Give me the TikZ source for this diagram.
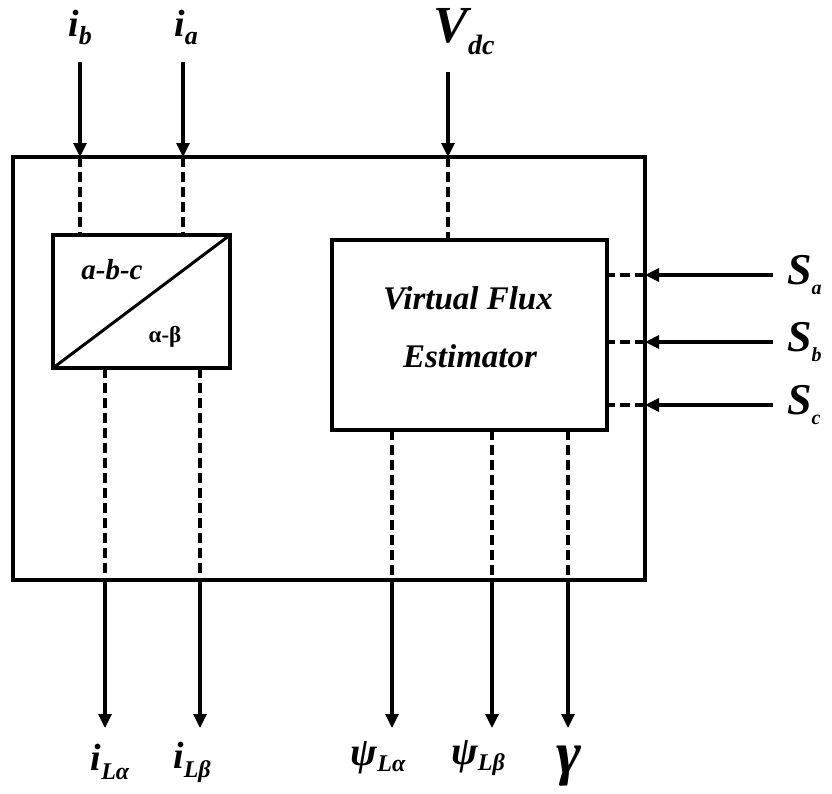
\documentclass[tikz,border=0pt]{standalone}
\usepackage{fontspec}
\usepackage{graphicx}
\setmainfont{Liberation Serif}
\usetikzlibrary{arrows.meta}
\newcommand\fs[1]{\fontsize{#1}{#1}\selectfont}
\newcommand\lowtxt[3]{\raisebox{#1}{\fs{#2}#3}}
\begin{document}
\begin{tikzpicture}[x=1pt,y=-1pt,
  boxst/.style={draw, line width=3.6pt, inner sep=0pt, outer sep=0pt, anchor=north west},
  dline/.style={line width=3.6pt, dash pattern=on 10pt off 5pt},
  arr/.style={line width=3.2pt, -{Triangle[length=14pt,width=13pt]}},
  lbl/.style={inner sep=0pt, font=\bfseries\itshape},
]
\useasboundingbox (0,0) rectangle (832,793);
% boxes
\node[boxst, minimum width=632pt, minimum height=423pt] (outer) at (13,157) {};
\node[boxst, minimum width=177pt, minimum height=133pt] (abc) at (53,235) {};
\node[boxst, minimum width=275pt, minimum height=190pt] (vf) at (332,240) {};
\draw[line width=3pt] (abc.south west) -- (abc.north east);
\node[lbl, font=\fs{29}\bfseries\itshape] (tabc) at (112,270) {a-b-c};
\node[inner sep=0pt, font=\fs{23}\bfseries] (tab) at (165,337) {α-β};
\node[lbl, font=\fs{33}\bfseries\itshape] (tvf1) at (468,298) {Virtual Flux};
\node[lbl, font=\fs{33}\bfseries\itshape] (tvf2) at (470,356) {Estimator};
% top inputs
\coordinate (ibs) at (80,62);
\coordinate (ias) at (183,62);
\coordinate (vs) at (448,72);
\node[lbl] (lib) at (80,27) {\fs{38}\itshape i\lowtxt{-8pt}{26}{b}};
\node[lbl] (lia) at (186,27) {\fs{38}\itshape i\lowtxt{-8pt}{26}{a}};
\node[lbl] (lv) at (464,32) {\fs{52}\bfseries\itshape V\lowtxt{-12pt}{28}{dc}};
\draw[arr] (ibs) -- (ibs |- outer.north);
\draw[arr] (ias) -- (ias |- outer.north);
\draw[arr] (vs) -- (vs |- outer.north);
\draw[dline] (ibs |- outer.north) -- (ibs |- abc.north);
\draw[dline] (ias |- outer.north) -- (ias |- abc.north);
\draw[dline] (vs |- outer.north) -- (vs |- vf.north);
% right inputs
\coordinate (sas) at (773,275);
\coordinate (sbs) at (773,342);
\coordinate (scs) at (773,405);
\node[lbl, anchor=west] (lsa) at (787,275) {\fs{44}\bfseries\itshape S\lowtxt{-10pt}{20}{a}};
\node[lbl, anchor=west] (lsb) at (787,342) {\fs{44}\bfseries\itshape S\lowtxt{-10pt}{20}{b}};
\node[lbl, anchor=west] (lsc) at (787,405) {\fs{44}\bfseries\itshape S\lowtxt{-10pt}{20}{c}};
\foreach \s in {sas,sbs,scs}{
  \draw[arr] (\s) -- (\s -| outer.east);
  \draw[dline] (\s -| outer.east) -- (\s -| vf.east);
}
% outputs
\coordinate (o1) at (105,728);
\coordinate (o2) at (200,728);
\coordinate (o3) at (392,728);
\coordinate (o4) at (492,728);
\coordinate (o5) at (568,728);
\foreach \o in {o1,o2}{
  \draw[dline] (\o |- abc.south) -- (\o |- outer.south);
  \draw[arr] (\o |- outer.south) -- (\o);
}
\foreach \o in {o3,o4,o5}{
  \draw[dline] (\o |- vf.south) -- (\o |- outer.south);
  \draw[arr] (\o |- outer.south) -- (\o);
}
\node[lbl] (l1) at (110,762) {\fs{38}\itshape i\lowtxt{-9pt}{24}{Lα}};
\node[lbl] (l2) at (192,762) {\fs{38}\itshape i\lowtxt{-9pt}{24}{Lβ}};
\node[lbl] (l3) at (378,758) {\fs{40}\itshape ψ\lowtxt{-6pt}{24}{Lα}};
\node[lbl] (l4) at (478,758) {\fs{40}\itshape ψ\lowtxt{-6pt}{24}{Lβ}};
\node[lbl] (l5) at (569,766) {\fs{60}\bfseries\itshape γ};
\end{tikzpicture}
\end{document}
